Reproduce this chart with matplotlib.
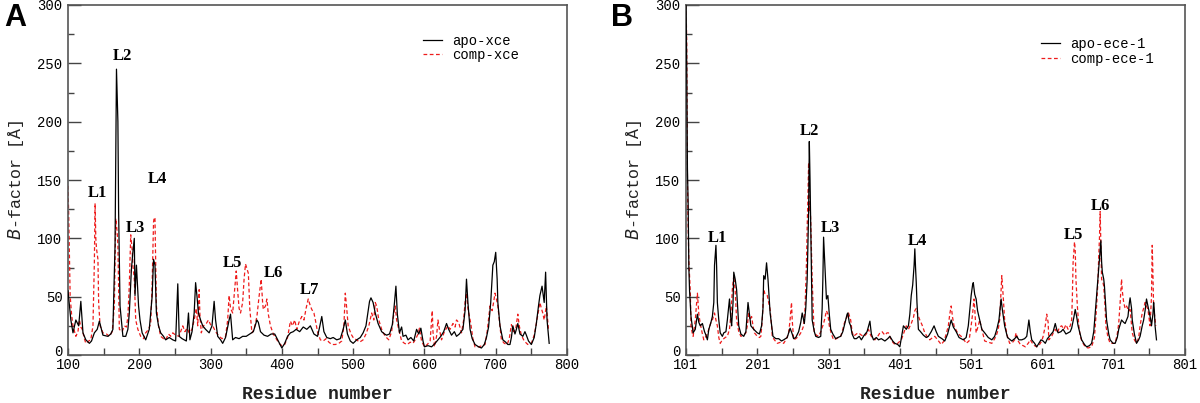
import matplotlib
matplotlib.use("Agg")
import matplotlib.pyplot as plt
import matplotlib.transforms as mtransforms
from matplotlib.ticker import FixedLocator

# ---------------- Panel A data (residue:value) ----------------
a_apo_res = [100,102,104,107,111,115,118,121,125,130,133,137,141,144,149,156,160,163,166,168,170,171,173,177,181,184,186,189,191,193,194,196,199,201,204,209,214,218,220,222,224,227,230,234,237,242,247,251,254,256,260,263,266,269,271,274,277,279,281,283,286,289,293,298,302,305,307,310,314,317,321,326,328,331,335,340,345,350,355,360,365,367,370,375,380,385,390,395,400,404,408,412,416,420,425,430,435,440,445,450,453,456,459,463,468,472,477,482,486,489,492,496,500,505,510,514,518,521,523,525,528,531,535,540,544,547,551,555,558,560,562,565,568,570,574,577,581,585,589,592,595,598,600,605,610,615,619,623,627,631,634,638,642,645,649,654,657,659,661,664,667,671,676,680,684,687,690,693,696,698,700,702,703,706,710,714,717,720,722,724,727,729,731,734,738,741,743,746,750,754,757,760,762,765,767,768,770,772,775]
a_apo_val = [55,42,30,19,30,25,46,19,13,10,12,19,22,29,17,16,18,22,94,245,200,123,42,16,16,22,36,74,88,100,51,77,42,30,19,13,22,50,82,77,36,25,19,16,13,15,13,12,61,16,14,13,12,36,13,20,36,62,50,36,30,25,22,19,25,46,30,16,13,10,15,30,35,13,15,14,16,16,18,20,30,28,20,17,16,18,18,12,6,10,16,19,20,22,20,24,22,25,18,16,24,33,20,15,14,15,13,14,22,30,18,12,10,13,15,19,25,38,46,49,45,36,27,20,18,17,18,26,45,59,35,19,24,16,17,13,15,12,22,18,23,12,7,8,7,10,13,16,20,27,22,17,20,16,18,22,38,65,45,22,14,9,7,6,9,15,24,45,77,80,88,65,45,25,13,11,9,9,15,25,18,22,27,18,16,20,17,12,9,15,27,42,51,59,50,45,71,30,10]

a_comp_res = [100,101,103,105,107,111,114,116,118,120,123,125,129,132,135,137,138,139,140,142,143,145,149,154,158,162,165,167,169,170,172,176,179,182,184,186,188,190,191,193,195,198,202,206,209,213,216,218,220,221,222,223,224,227,230,234,237,241,244,247,251,256,258,261,264,267,270,274,277,280,282,284,285,287,290,294,297,300,303,307,312,316,321,324,326,328,331,333,336,338,340,342,345,347,349,351,353,355,358,361,365,368,371,373,374,377,379,381,384,388,392,396,400,404,408,412,415,418,421,424,428,431,434,437,440,442,445,447,450,454,458,462,466,470,475,480,484,487,489,491,493,497,501,505,509,514,518,522,526,529,531,533,536,540,545,550,554,557,559,561,564,568,572,576,580,584,588,591,593,596,600,604,608,611,612,614,617,619,621,624,628,633,636,640,643,645,648,652,655,657,659,661,665,668,671,676,681,685,688,692,695,697,699,701,703,706,708,712,716,719,722,725,728,731,733,736,740,745,750,754,757,760,762,764,766,768,771,772,774]
a_comp_val = [145,120,51,35,25,16,20,30,24,22,14,10,12,13,25,80,130,100,91,82,45,25,19,18,16,20,42,117,105,94,22,20,25,24,33,60,103,90,77,65,30,22,16,14,19,22,27,60,114,118,117,80,42,25,16,14,13,18,16,19,17,16,20,25,20,23,19,22,30,40,25,56,35,19,25,27,30,26,25,20,16,14,16,30,51,40,36,50,72,55,40,36,45,65,78,74,70,40,19,22,33,50,65,45,39,42,48,35,25,18,14,10,8,9,15,29,25,30,22,28,33,30,40,48,42,39,36,30,20,13,12,14,11,9,9,10,12,25,53,40,25,18,14,13,11,13,18,25,36,30,45,42,30,22,16,13,20,35,42,30,22,12,10,9,11,10,14,18,23,12,7,9,12,38,20,7,16,30,22,13,20,25,22,27,24,30,28,19,30,45,53,40,27,14,7,7,8,9,20,42,38,45,53,48,42,25,13,10,9,14,26,20,22,35,25,17,12,9,10,17,27,38,45,40,36,30,42,36,22]

# ---------------- Panel B data ----------------
b_apo_res = [101,102,103,104,105,106,108,111,114,117,119,121,124,127,129,131,133,136,138,140,141,143,144,145,147,149,152,154,157,159,162,164,165,167,168,170,172,175,178,182,185,188,190,192,196,201,204,207,209,210,212,214,216,219,223,227,231,235,238,243,247,250,252,255,259,262,264,266,267,269,271,273,274,275,276,277,278,281,283,287,290,292,293,294,296,298,300,302,304,307,311,314,318,321,323,325,327,328,330,332,334,337,340,344,347,351,355,359,361,364,368,371,375,380,384,387,391,394,398,401,404,406,410,413,415,417,419,421,422,423,424,425,427,430,434,438,441,445,449,452,455,460,464,468,471,473,476,480,484,490,494,497,499,501,503,504,506,508,510,513,516,520,525,530,534,537,540,543,545,548,552,558,562,565,568,572,576,579,582,584,586,590,593,596,599,602,605,608,612,616,619,621,623,627,630,634,637,640,642,645,647,649,651,654,656,660,663,667,670,673,675,677,680,682,683,684,685,687,688,690,691,694,696,700,703,706,708,710,712,715,717,719,721,723,724,726,727,730,733,736,738,741,743,745,747,749,751,753,754,756,757,758,759,761]
b_apo_val = [300,250,160,130,75,55,33,19,22,35,28,25,27,20,17,13,22,28,33,45,77,94,75,45,30,19,16,19,20,30,48,30,25,45,71,65,56,25,18,16,20,45,35,25,22,19,18,25,40,68,65,79,65,36,16,14,14,12,13,15,23,18,14,15,20,28,36,30,27,40,65,123,183,150,108,60,30,20,16,15,16,40,65,101,75,48,51,35,22,18,14,15,16,20,25,30,35,36,28,25,18,14,14,16,13,17,20,29,18,13,15,13,14,12,14,16,12,10,9,7,18,25,22,25,35,51,60,77,91,75,62,45,22,20,17,15,16,20,25,20,16,14,12,18,25,30,24,20,15,13,15,25,38,51,60,62,52,48,38,30,22,19,15,13,16,22,30,48,38,25,15,12,14,16,13,13,14,16,30,20,13,10,7,10,13,12,10,14,17,20,27,22,19,20,22,18,19,20,23,32,39,33,25,18,13,9,7,8,10,20,35,51,74,90,98,80,71,65,59,40,30,18,13,10,10,15,22,26,30,28,27,30,33,45,49,40,30,18,10,13,16,25,30,38,48,42,36,30,25,35,45,38,25,13]

b_comp_res = [101,102,103,104,105,107,108,110,111,114,116,117,119,121,124,126,130,133,136,138,141,143,145,147,149,152,156,159,162,164,166,168,170,172,175,178,182,185,187,189,191,193,195,197,201,204,206,208,210,212,215,217,219,221,222,225,229,234,238,242,245,247,249,250,252,255,259,263,266,268,270,271,272,273,274,275,276,277,278,280,281,284,287,290,294,296,298,300,302,305,308,312,315,318,321,323,325,327,329,332,334,336,340,343,347,351,354,357,360,363,366,370,373,376,380,383,385,388,391,394,398,403,406,410,413,417,420,422,424,426,429,432,436,440,443,447,450,454,459,463,466,469,471,473,475,477,481,485,489,494,498,501,503,505,506,508,511,513,516,520,525,530,534,537,539,541,543,544,546,548,551,555,558,562,564,567,570,574,577,581,584,587,590,593,597,600,602,605,607,609,610,614,617,619,622,625,628,631,634,637,640,642,643,644,646,647,648,650,652,654,657,661,665,670,674,677,679,680,681,682,683,684,686,687,689,690,693,696,700,703,706,708,710,712,713,715,717,719,722,724,726,727,730,733,736,738,741,743,745,747,749,751,752,754,755,756,757,758,760]
b_comp_val = [300,270,150,110,80,55,25,18,16,30,45,53,35,27,18,13,17,22,28,30,36,30,25,15,10,13,15,16,22,35,56,68,55,30,20,16,17,19,25,36,30,33,25,19,16,15,16,30,56,52,51,45,39,25,16,13,10,11,10,14,19,30,45,30,13,14,16,20,25,40,79,110,134,165,123,130,114,90,65,30,19,17,16,20,27,32,38,35,25,18,13,14,15,16,22,27,30,33,36,30,20,16,18,19,17,16,18,22,17,14,13,16,19,20,17,19,19,14,11,9,10,13,18,25,22,27,32,38,40,35,30,26,19,15,13,15,16,13,9,12,18,25,35,42,32,25,20,17,15,10,12,25,35,48,40,19,25,30,22,12,11,10,14,18,22,30,55,68,50,30,18,10,10,13,19,12,9,8,7,10,13,10,8,7,9,12,16,25,35,28,13,16,20,22,19,24,25,22,26,22,25,30,50,79,97,90,65,42,25,16,11,7,6,7,15,42,65,85,100,123,95,65,62,59,40,25,15,10,10,10,18,27,45,65,55,45,40,42,38,39,25,19,13,10,15,25,36,40,45,42,39,30,25,50,94,70,40,36,25]

# labels
a_lab = ["L1", "L2", "L3", "L4", "L5", "L6", "L7"]
a_lab_x = [141, 176, 194, 225, 331, 388, 439]
a_lab_y = [139, 256, 109, 151, 79, 70, 56]
b_lab = ["L1", "L2", "L3", "L4", "L5", "L6"]
b_lab_x = [145, 274, 303, 425, 645, 683]
b_lab_y = [100, 192, 109, 98, 103, 128]

a_xticks = [100, 200, 300, 400, 500, 600, 700, 800]
b_xticks = [101, 201, 301, 401, 501, 601, 701, 801]
yticks = [0, 50, 100, 150, 200, 250, 300]
yminor = [25, 75, 125, 175, 225, 275]

MONO = "Liberation Mono"
SERIF = "Liberation Serif"

fig = plt.figure(figsize=(12, 4.03), dpi=100)
W, H = 1200, 403

def make_ax(left, right):
    return fig.add_axes([left / W, 1 - 355 / H, (right - left) / W, 350 / H])

axA = make_ax(68, 567)
axB = make_ax(686, 1185)

def style(ax, xmin, xmax, xticks):
    ax.set_xlim(xmin, xmax)
    ax.set_ylim(0, 300)
    ax.xaxis.set_major_locator(FixedLocator(xticks))
    ax.xaxis.set_minor_locator(FixedLocator([t + 50 for t in xticks[:-1]]))
    ax.yaxis.set_major_locator(FixedLocator(yticks))
    ax.yaxis.set_minor_locator(FixedLocator(yminor))
    ax.tick_params(which="both", direction="in", top=False, right=False,
                   colors="#444444", labelcolor="black", labelsize=10)
    ax.tick_params(axis="y", which="major", length=9, width=1, pad=4)
    ax.tick_params(axis="y", which="minor", length=4, width=1)
    ax.tick_params(axis="x", which="major", length=5, width=1, pad=2)
    ax.tick_params(axis="x", which="minor", length=5, width=1)
    for s in ax.spines.values():
        s.set_color("#555555")
        s.set_linewidth(1.2)
    for lab in ax.get_xticklabels() + ax.get_yticklabels():
        lab.set_fontfamily(MONO)
    # lift the "0" label a little so it does not collide with the first x label
    t0 = ax.yaxis.get_major_ticks()[0].label1
    t0.set_transform(t0.get_transform() +
                     mtransforms.ScaledTranslation(0, 4 / 100, fig.dpi_scale_trans))
    ax.set_xlabel("Residue number", fontfamily=MONO, fontsize=13,
                  fontweight="bold", labelpad=10, color="#222222")
    ax.set_ylabel(r"$\mathit{B}$-factor [Å]", fontfamily=MONO, fontsize=12,
                  labelpad=8, color="#222222")

def draw(ax, x1, y1, x2, y2, n1, n2):
    ax.plot(x1, y1, color="black", lw=0.9, label=n1, zorder=3)
    ax.plot(x2, y2, color="#ee1c1c", lw=0.9, ls=(0, (3, 2)), label=n2, zorder=2)

draw(axA, a_apo_res, a_apo_val, a_comp_res, a_comp_val, "apo-xce", "comp-xce")
draw(axB, b_apo_res, b_apo_val, b_comp_res, b_comp_val, "apo-ece-1", "comp-ece-1")

style(axA, 100, 800, a_xticks)
style(axB, 101, 801, b_xticks)

for ax, labs, lx, ly in [(axA, a_lab, a_lab_x, a_lab_y), (axB, b_lab, b_lab_x, b_lab_y)]:
    for t, x, y in zip(labs, lx, ly):
        ax.text(x, y, t, fontfamily=SERIF, fontweight="bold", fontsize=12,
                ha="center", va="center")

axA.legend(loc="upper left", bbox_to_anchor=(355 / 499, 0.918), frameon=False,
           prop={"family": MONO, "size": 10}, handlelength=1.4,
           handletextpad=0.7, labelspacing=0.0, borderpad=0, borderaxespad=0)
axB.legend(loc="upper left", bbox_to_anchor=(355 / 499, 0.908), frameon=False,
           prop={"family": MONO, "size": 10}, handlelength=1.4,
           handletextpad=0.7, labelspacing=0.05, borderpad=0, borderaxespad=0)

fig.text(15 / W, 1 - 18 / H, "A", fontsize=22, fontweight="bold",
         fontfamily="Liberation Sans", ha="center", va="center")
fig.text(622 / W, 1 - 18 / H, "B", fontsize=22, fontweight="bold",
         fontfamily="Liberation Sans", ha="center", va="center")

fig.savefig("out.png", dpi=100)
